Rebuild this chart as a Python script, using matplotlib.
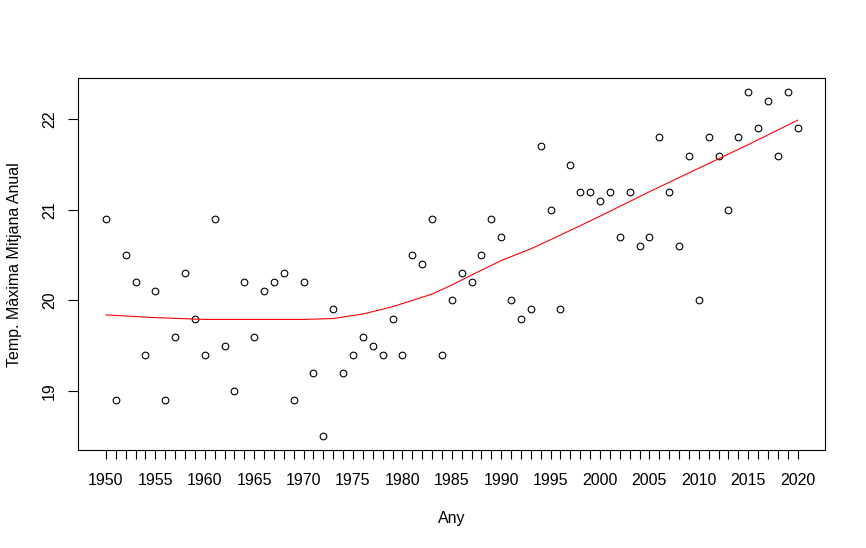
import matplotlib
matplotlib.use("Agg")
import matplotlib.pyplot as plt

plt.rcParams['font.family'] = ['Liberation Sans', 'DejaVu Sans']
plt.rcParams['font.size'] = 11.5

# annual mean of daily maximum temperature
years = list(range(1950, 2021))
temp_max = [
    20.9, 18.9, 20.5, 20.2, 19.4, 20.1, 18.9, 19.6, 20.3, 19.8,  # 1950s
    19.4, 20.9, 19.5, 19.0, 20.2, 19.6, 20.1, 20.2, 20.3, 18.9,  # 1960s
    20.2, 19.2, 18.5, 19.9, 19.2, 19.4, 19.6, 19.5, 19.4, 19.8,  # 1970s
    19.4, 20.5, 20.4, 20.9, 19.4, 20.0, 20.3, 20.2, 20.5, 20.9,  # 1980s
    20.7, 20.0, 19.8, 19.9, 21.7, 21.0, 19.9, 21.5, 21.2, 21.2,  # 1990s
    21.1, 21.2, 20.7, 21.2, 20.6, 20.7, 21.8, 21.2, 20.6, 21.6,  # 2000s
    20.0, 21.8, 21.6, 21.0, 21.8, 22.3, 21.9, 22.2, 21.6, 22.3,  # 2010s
    21.9,
]

# smooth curve (red)
smooth_years = [1950, 1955, 1960, 1965, 1970, 1973, 1976, 1979, 1981,
                1983, 1985, 1987, 1990, 1993, 1995, 2000, 2005, 2010,
                2015, 2020]
smooth_vals = [19.84, 19.81, 19.79, 19.79, 19.79, 19.80, 19.85, 19.93, 20.00,
               20.07, 20.17, 20.28, 20.44, 20.57, 20.67, 20.93, 21.20, 21.46,
               21.72, 21.99]

fig = plt.figure(figsize=(8.66, 5.48), dpi=100)
ax = fig.add_axes([0.0904, 0.1788, 0.8626, 0.6782])

ax.plot(years, temp_max, 'o', mfc='none', mec='black', ms=4.8, mew=0.8)
ax.plot(smooth_years, smooth_vals, color='red', lw=0.8)

# R-style 4% padding
xr = years[-1] - years[0]
yr = max(temp_max) - min(temp_max)
ax.set_xlim(years[0] - 0.04 * xr, years[-1] + 0.04 * xr)
ax.set_ylim(min(temp_max) - 0.04 * yr, max(temp_max) + 0.04 * yr)

ax.set_xticks(years)
ax.set_xticklabels([str(y) if y % 5 == 0 else '' for y in years])
ax.set_yticks([19, 20, 21, 22])
ax.set_yticklabels(['19', '20', '21', '22'], rotation=90, va='center')

ax.tick_params(axis='x', length=6.3, width=0.8, pad=10)
ax.tick_params(axis='y', length=7.2, width=0.8, pad=8)

for s in ax.spines.values():
    s.set_linewidth(0.8)

fig.text(15 / 866, 1 - 265 / 548, 'Temp. Màxima Mitjana Anual',
         rotation=90, ha='center', va='center')
fig.text(452 / 866, 1 - 519 / 548, 'Any', ha='center', va='center')

fig.savefig('out.png', dpi=100)
